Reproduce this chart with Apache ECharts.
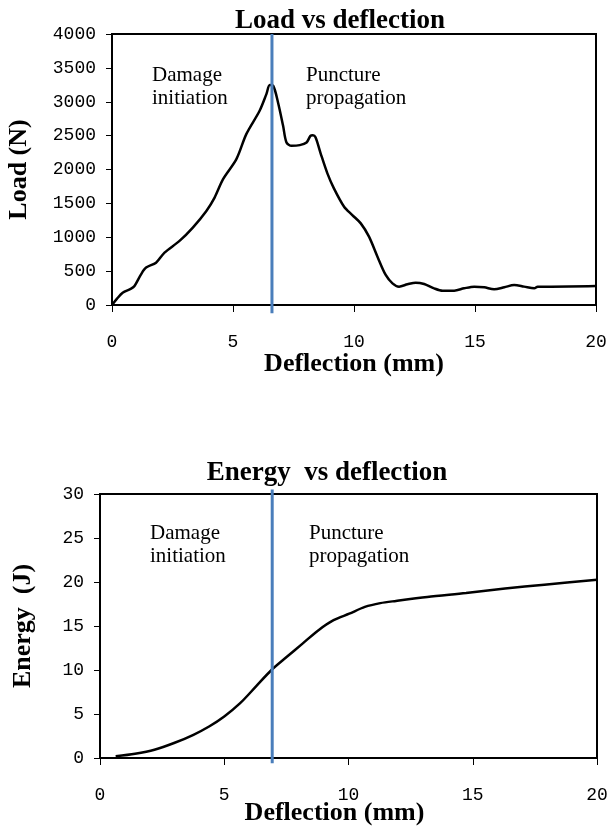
<!DOCTYPE html>
<html><head><meta charset="utf-8">
<script src="https://cdn.jsdelivr.net/npm/echarts@6/dist/echarts.min.js"></script>
<style>html,body{margin:0;padding:0;background:#fff}#c{width:609px;height:826px}</style>
</head><body><div id="c"></div>
<script>
// Load vs deflection
const loadX = [0,0.2,0.44,0.79,0.93,1.2,1.41,1.82,2.17,2.79,3.34,3.9,4.24,4.59,5.14,5.55,6.1,6.38,6.52,6.66,6.86,7.07,7.21,7.42,7.76,8.04,8.2,8.3,8.41,8.62,8.9,9.17,9.59,9.93,10.28,10.62,10.97,11.31,11.59,11.86,12.21,12.55,12.9,13.31,13.66,14.14,14.55,14.97,15.38,15.79,16.21,16.62,17.03,17.45,17.59,18.14,20];
const loadY = [0,90,182,241,281,453,552,625,773,946,1143,1389,1586,1857,2153,2522,2867,3113,3246,3236,2990,2645,2399,2350,2360,2399,2497,2505,2475,2239,1943,1722,1451,1328,1205,1009,713,443,320,271,305,330,310,246,212,212,246,271,261,231,261,295,271,246,271,271,280];
// Energy vs deflection
const energyX = [0.63,1.41,2.19,2.98,3.76,4.39,5.0,5.64,6.27,6.9,7.52,8.15,8.78,9.4,10.03,10.66,11.28,11.91,13.17,14.73,16.3,17.88,20];
const energyY = [0.2,0.49,0.94,1.7,2.64,3.58,4.72,6.23,8.11,10.0,11.5,13.0,14.5,15.66,16.4,17.17,17.6,17.85,18.3,18.75,19.25,19.7,20.26];
const loadDivider = 6.61;
const energyDivider = 6.93;
const titles = ['Load vs deflection','Energy  vs deflection'];
const xName = 'Deflection (mm)';
const yNames = ['Load (N)','Energy  (J)'];
const leftText = 'Damage\ninitiation';
const rightText = 'Puncture\npropagation';

const zip = (a,b) => a.map((v,i)=>[v,b[i]]);
const serif = 'Liberation Serif';
const tickFont = {fontFamily:'Liberation Mono', fontSize:18, color:'#000', formatter:(v)=>String(v)};
function xAxis(gi, margin, gap, pad){
  return {type:'value', gridIndex:gi, min:0, max:20, interval:5,
    name:xName, nameLocation:'middle', nameGap: gap, nameMoveOverlap:false,
    nameTextStyle:{fontFamily:serif, fontWeight:'bold', fontSize:26, color:'#000', padding:pad},
    axisLine:{lineStyle:{color:'#000', width:2}},
    axisTick:{inside:false, length:7, lineStyle:{color:'#000', width:1}},
    axisLabel:Object.assign({margin:margin}, tickFont),
    splitLine:{show:false}};
}
function yAxis(gi, max, interval, gap){
  return {type:'value', gridIndex:gi, min:0, max:max, interval:interval,
    name:yNames[gi], nameLocation:'middle', nameGap:gap, nameRotate:90,
    nameTextStyle:{fontFamily:serif, fontWeight:'bold', fontSize:26, color:'#000'},
    axisLine:{lineStyle:{color:'#000', width:2}},
    axisTick:{inside:false, length:6, lineStyle:{color:'#000', width:1}},
    axisLabel:Object.assign({margin:16}, tickFont),
    splitLine:{show:false}};
}
const txt = {fontFamily:serif, fontSize:21, color:'#000', lineHeight:23};
const option = {
  animation:false,
  backgroundColor:'#fff',
  title:[
    {text:titles[0], left:335, top:3, textAlign:'center', textStyle:{fontFamily:serif, fontWeight:'bold', fontSize:27, color:'#000'}},
    {text:titles[1], left:322, top:455, textAlign:'center', textStyle:{fontFamily:serif, fontWeight:'bold', fontSize:27, color:'#000'}}
  ],
  grid:[
    {left:112, top:34, width:484, height:271, show:true, borderColor:'#000', borderWidth:2, outerBoundsMode:'none', containLabel:false},
    {left:100, top:494, width:497, height:264, show:true, borderColor:'#000', borderWidth:2, outerBoundsMode:'none', containLabel:false}
  ],
  xAxis:[xAxis(0,28,46,[0,0,0,0]), xAxis(1,28,42,[0,28,0,0])],
  yAxis:[yAxis(0,4000,500,80), yAxis(1,30,5,64)],
  series:[
    {type:'line', xAxisIndex:0, yAxisIndex:0, data:zip(loadX,loadY), smooth:0.3, showSymbol:false,
      lineStyle:{color:'#000', width:2.5}},
    {type:'line', xAxisIndex:0, yAxisIndex:0, clip:false, data:[[loadDivider,-120],[loadDivider,4000]], showSymbol:false,
      lineStyle:{color:'#4a7ebb', width:3}, z:3},
    {type:'line', xAxisIndex:1, yAxisIndex:1, data:zip(energyX,energyY), smooth:0.3, showSymbol:false,
      lineStyle:{color:'#000', width:2.5}},
    {type:'line', xAxisIndex:1, yAxisIndex:1, clip:false, data:[[energyDivider,-0.6],[energyDivider,30.5]], showSymbol:false,
      lineStyle:{color:'#4a7ebb', width:3}, z:3}
  ],
  graphic:[
    {type:'text', left:152, top:64, style:Object.assign({text:leftText}, txt)},
    {type:'text', left:306, top:64, style:Object.assign({text:rightText}, txt)},
    {type:'text', left:150, top:522, style:Object.assign({text:leftText}, txt)},
    {type:'text', left:309, top:522, style:Object.assign({text:rightText}, txt)}
  ]
};
echarts.init(document.getElementById('c')).setOption(option);
</script></body></html>
